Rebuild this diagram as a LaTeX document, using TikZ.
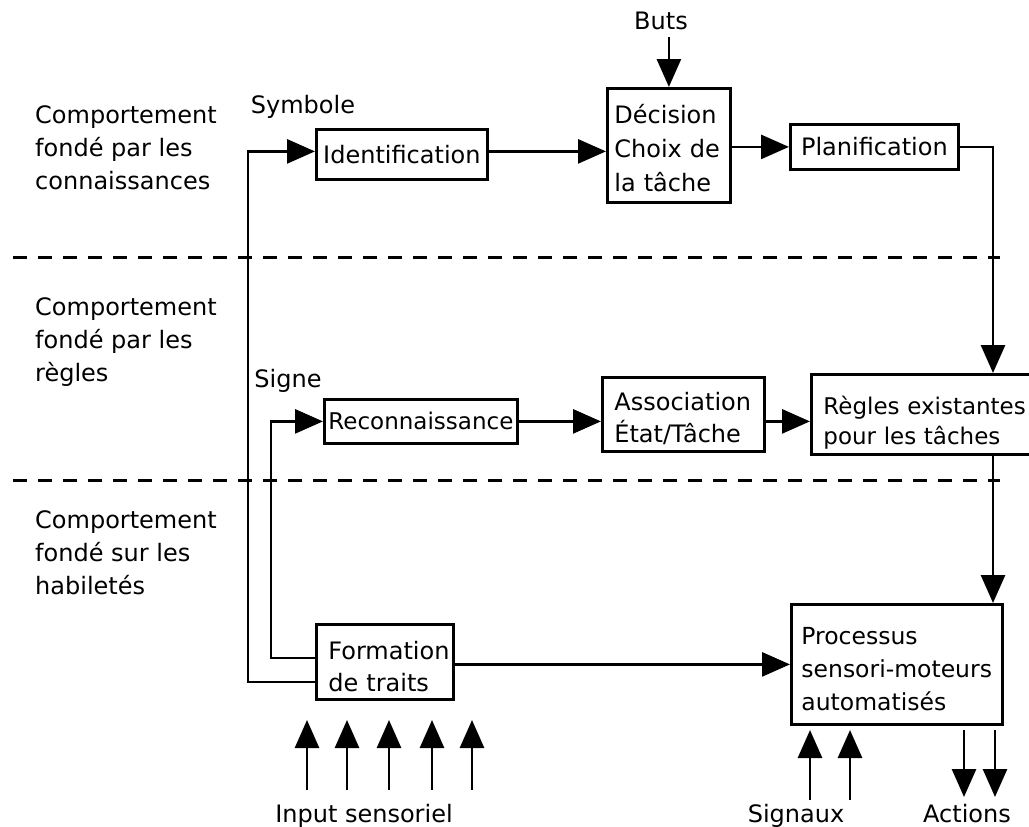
\documentclass[tikz,border=0pt]{standalone}
\usepackage{fontspec}
\setmainfont{DejaVu Sans}
\usetikzlibrary{arrows.meta}

\newcommand{\hauteur}[1]{\rule{0pt}{#1}}

\tikzset{
  boite/.style={draw, line width=2.8pt, align=left, anchor=north west, inner ysep=0pt},
  fleche/.style={line width=2.8pt, -{Triangle[length=28pt,width=24pt]}},
  tirets/.style={line width=3pt, dash pattern=on 14pt off 11pt},
  texte/.style={align=left, inner sep=0pt},
}

\begin{document}
\begin{tikzpicture}[x=1pt, y=-1pt, font=\fontsize{24}{33}\selectfont]
\useasboundingbox (0,0) rectangle (1029,827);
\clip (0,0) rectangle (1029,827);

\node[texte, anchor=west] (niveauA) at (35,148) {Comportement\\fondé par les\\connaissances};
\node[texte, anchor=west] (niveauB) at (35,342) {Comportement\\fondé par les\\règles};
\node[texte, anchor=west] (niveauC) at (35,553) {Comportement\\fondé sur les\\habiletés};

\draw[tirets] (13,257) -- (1000,257);
\draw[tirets] (13,480) -- (1000,480);

\node[boite, minimum width=171pt, minimum height=50pt, inner xsep=0pt] (ident) at (315,128) {Identification};
\node[boite, text width=109pt, inner xsep=7pt, minimum height=114pt, font=\fontsize{24}{34}\selectfont] (decision) at (606,87) {\hauteur{24pt}Décision\\Choix de\\la tâche};
\node[boite, minimum width=168pt, minimum height=45pt, inner xsep=0pt] (planif) at (789,123) {Planification};
\node[boite, minimum width=193pt, minimum height=44pt, inner xsep=0pt, font=\fontsize{23}{33}\selectfont] (reco) at (323,398) {Reconnaissance};
\node[boite, text width=138pt, inner xsep=12pt, minimum height=74pt, font=\fontsize{24}{32}\selectfont] (assoc) at (601,376) {\hauteur{26pt}Association\\État/Tâche};
\node[boite, text width=228pt, inner xsep=12pt, minimum height=80pt, font=\fontsize{23}{30}\selectfont] (regles) at (810,373) {\hauteur{35pt}Règles existantes\\pour les tâches};
\node[boite, text width=113pt, inner xsep=12pt, minimum height=75pt, font=\fontsize{24}{32}\selectfont] (formation) at (315,623) {\hauteur{27pt}Formation\\de traits};
\node[boite, text width=191pt, inner xsep=10pt, minimum height=120pt, font=\fontsize{23.5}{33}\selectfont] (processus) at (790,603) {\hauteur{26pt}Processus\\sensori-moteurs\\automatisés};

\node[texte, anchor=base] (buts) at (661,30) {Buts};
\node[texte, anchor=base] (symbole) at (303,113) {Symbole};
\node[texte, anchor=base] (signe) at (288,387) {Signe};
\node[texte, anchor=base] (input) at (364,822) {Input sensoriel};
\node[texte, anchor=base] (signaux) at (796,822) {Signaux};
\node[texte, anchor=base] (actions) at (967,822) {Actions};

\coordinate (colonne) at (993,0);

\draw[fleche] (buts.south -| decision.north) ++(0,6) -- (decision.north);
\draw[fleche] ([yshift=3pt]ident.east) -- ([yshift=3pt]ident.east -| decision.west);
\draw[fleche] (planif.west -| decision.east) -- (planif.west);
\draw[fleche] (planif.east) -| (colonne |- regles.north);
\draw[fleche] (reco.east) -- (reco.east -| assoc.west);
\draw[fleche] (reco.east -| assoc.east) -- (reco.east -| regles.west);
\draw[fleche] (colonne |- regles.south) -- (colonne |- processus.north);
\draw[fleche] (processus.west -| formation.east) -- (processus.west);
\draw[fleche] ([yshift=4pt]formation.west) -- ++(-44,0) |- (reco.west);
\draw[fleche] ([yshift=-20pt]formation.west) -- ++(-67,0) |- ([yshift=3pt]ident.west);

\foreach \x in {307,347,389,432,472}
  \draw[fleche] (\x,790) -- (\x,720);
\foreach \x in {810,850}
  \draw[fleche] (\x,800) -- (\x,730);
\foreach \x in {964,995}
  \draw[fleche] (\x,730) -- (\x,797);
\end{tikzpicture}
\end{document}
